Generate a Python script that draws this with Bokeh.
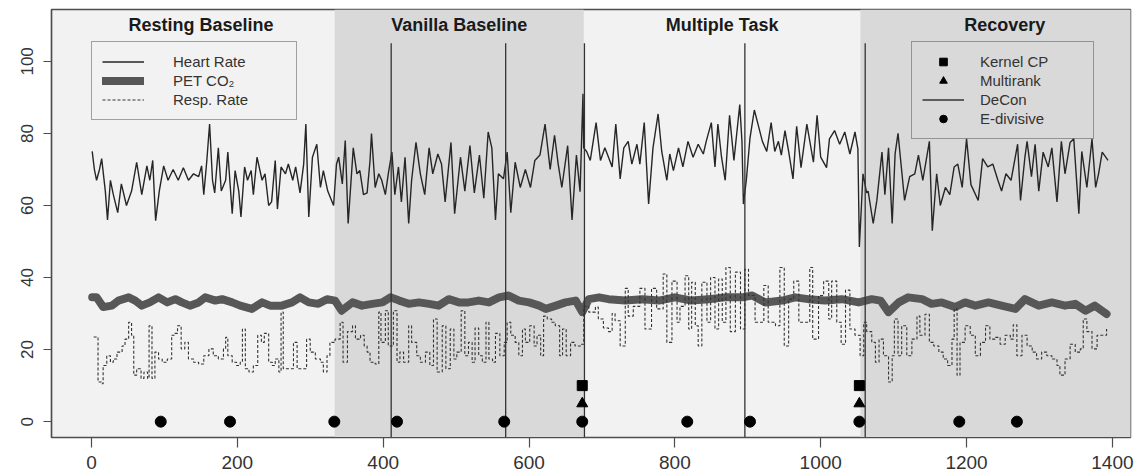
import numpy as np
from bokeh.plotting import figure
from bokeh.models import Range1d, FixedTicker, BoxAnnotation, Legend, LegendItem, ColumnDataSource
from bokeh.core.properties import value
from bokeh.embed import file_html
from bokeh.resources import INLINE

# ---------------- data ----------------
phase_names = ["Resting Baseline", "Vanilla Baseline", "Multiple Task", "Recovery"]
phase_start = [-33, 333.5, 675, 1054.5]
phase_end = [333.5, 675, 1054.5, 1450]

hr_time = [1, 4, 7, 11, 14, 19, 22, 26, 30, 36, 41, 48, 55, 62, 69, 76, 80, 84, 88, 93, 99, 105, 112, 119, 126, 133,
           140, 147, 151, 154, 158, 162, 166, 169, 174, 178, 184, 187, 193, 197, 202, 205, 210, 214, 219, 222, 227,
           234, 238, 243, 247, 252, 255, 260, 266, 270, 276, 280, 286, 291, 294, 298, 303, 309, 314, 318, 324, 332,
           336, 339, 344, 348, 352,
           359, 364, 368, 373, 378, 382, 384, 389, 394, 398, 403, 407, 412, 416, 421, 425, 430, 435, 439, 445, 451,
           457, 463, 468, 475, 480, 485, 493, 498, 506, 512, 519, 525, 532, 538, 544, 549, 554, 558, 565, 570, 575,
           581, 588, 595, 602, 608, 615, 622, 629, 635, 640, 645, 653, 659, 665, 670, 674, 675, 679, 684, 692, 698,
           704, 709,
           714, 719, 725, 730, 736, 741, 748, 752, 758, 764, 770, 777, 782, 789, 793, 798, 805, 811, 818, 825, 832,
           839, 843, 850, 855, 859, 864, 869, 875, 881, 889, 892, 894, 898, 903, 909, 914, 920, 926, 932, 937, 942,
           946, 951, 956, 962, 967, 973, 981, 990, 995, 1000, 1008, 1012, 1019, 1026, 1033, 1040, 1047, 1051, 1053,
           1058, 1063,
           1065, 1072, 1077, 1084, 1088, 1093, 1098, 1102, 1106, 1111, 1115, 1122, 1129, 1134, 1140, 1149, 1153,
           1159, 1164, 1171, 1177, 1183, 1188, 1194, 1200, 1206, 1216, 1222, 1229, 1236, 1243, 1248, 1254, 1261,
           1270, 1274, 1280, 1283, 1289, 1294, 1299, 1305, 1312, 1317, 1324, 1330, 1335, 1342, 1347, 1354, 1358,
           1365, 1372, 1377, 1381, 1386, 1394]
heart_rate = [75, 70, 67, 70, 73, 64, 56, 67, 63, 58, 66, 60, 64, 72, 63, 71, 67, 72.5, 55.8, 64, 71, 67, 70, 67, 70.5, 67,
              68.8, 68, 71, 63, 72, 82.6, 67, 63.5, 76, 64, 67, 74.8, 57.7, 69.7, 64, 56.8, 70.7, 67, 69.7, 63, 73.4,
              67, 68.8, 60, 61, 72.5, 59, 70.7, 68.8, 71.5, 67, 70.7, 63.5, 71.5, 82.6, 56.8, 73.4, 77, 65, 69.7, 64, 60,
              71.5, 73.4, 66, 78, 55,
              76, 68.8, 69.7, 63, 63.5, 72.5, 80, 65, 68.8, 67, 63, 68.8, 74.8, 63, 70.7, 61, 73.4, 55, 67, 77.5, 68.8,
              63, 76, 68.8, 74.3, 71.5, 61, 77.5, 57.7, 73.4, 64, 76.6, 63.5, 74, 62, 80.4, 76, 56, 68.8, 67.4, 74.8, 58,
              72, 65, 70, 65, 72.5, 74, 82.6, 70, 79.5, 71.5, 65, 76.6, 56, 74, 63.8, 91, 76, 75, 72.5, 83, 72.5,
              76, 73.4,
              70.7, 82.6, 67.4, 76, 77.8, 71.5, 77, 71.5, 83, 60.4, 76, 85.4, 75, 67, 74.3, 69.7, 76, 70.7, 77.8, 73.4, 77,
              74.3, 77.8, 83, 70.7, 82.6, 73.4, 67, 85, 72.5, 88, 77.8, 60.4, 67, 78.7, 86.5, 82.6, 77.8, 75, 83, 75, 77.8,
              74, 80.8, 75, 67.4, 82, 70.5, 82.6, 72, 85, 73.4, 70.5, 78.5, 80.8, 77, 80.4, 74.3, 80.4, 75.7, 48.5,
              68.8, 63.5,
              64, 55, 61.4, 74.8, 63, 76, 55, 74.3, 80, 69.7, 61.4, 68, 68.8, 74, 67, 77.8, 53,
              68.8, 60, 65, 63, 70.7, 71.5, 65, 78.5, 65.8, 61.4, 73, 70.7, 71.5, 67, 64, 68.8, 67,
              77, 61.4, 73.4, 77.8, 68, 77, 64, 74.8, 70.7, 76, 61, 77.8, 68.8, 77.5, 78.5, 57.7, 75,
              65, 78.5, 65, 68.8, 74.8, 72.5]

co2_time = [1, 7, 16, 28, 37, 51, 60, 69, 80, 92, 104, 115, 124, 135, 147, 156, 170, 179, 193, 204, 220, 234, 245, 261,
            275, 286, 298, 311, 323, 334, 343, 358, 371, 385, 399, 410, 422, 435, 449, 463, 476, 490, 504, 517, 531,
            545, 559, 572, 586, 600, 614, 623, 637, 650, 664, 673, 682, 696, 709, 732, 755, 778, 800, 823, 846, 869,
            892, 906, 924, 947, 965, 983, 1006, 1029, 1052, 1070, 1082, 1093, 1107, 1120, 1139, 1152, 1166, 1184,
            1198, 1212, 1230, 1248, 1267, 1280, 1299, 1317, 1335, 1349, 1363, 1376, 1392]
pet_co2 = [34.5, 34.5, 31.8, 32.2, 33.6, 34.5, 33.6, 32.2, 33.1, 34.5, 33.1, 34, 33.1, 32.2, 33.1, 34.5, 33.6, 34, 33.1,
           32.2, 31.3, 33.1, 32.2, 32.2, 33.1, 34.5, 33.1, 32.7, 34, 33.6, 30.8, 33.1, 32.2, 32.7, 33.1, 34.5, 33.6,
           32.7, 33.1, 32.7, 32.2, 34, 33.1, 33.1, 33.6, 33.1, 34.5, 35, 33.6, 33.1, 32.2, 31.3, 32.2, 33.1, 33.6, 30.4,
           34, 34.5, 34, 33.6, 34, 33.6, 34.5, 33.6, 34, 34.5, 34.5, 35, 33.1, 33.6, 34.5, 34, 33.6, 34, 33.1, 34, 33.6,
           30.4, 33.1, 34.5, 34, 32.7, 33.1, 31.8, 33.1, 32.2, 33.1, 32.2, 31.3, 34, 32.2, 33.1, 32.2, 32.7, 30.8,
           32.2, 29.9]

rr_time = [3, 9, 14, 16, 21, 26, 30, 35, 42, 46, 51, 55, 58, 62, 68, 72, 77, 79, 83, 87, 92, 97, 104, 110, 114, 118,
           123, 128, 133, 140, 147, 154, 161, 167, 174, 181, 184, 187, 193, 199, 204, 207, 211, 216, 222, 228, 233,
           237, 243, 248, 252, 257, 260, 263, 270, 277, 282, 289, 295, 300, 307, 314, 318, 323, 327, 334, 341, 345,
           351, 358, 362, 369, 374, 378, 382, 389, 394, 397, 403, 407, 414, 419, 423, 428, 435, 439, 446, 451, 458,
           464, 469, 474, 481, 486, 492, 497, 501, 507, 512, 517, 522, 526, 531, 536, 541, 545, 550, 554, 560, 566,
           570, 575, 581, 586, 591, 595, 601, 607, 611, 616, 620, 625, 631, 636, 642, 646, 651, 657, 663, 672, 675,
           682, 691, 695, 702, 709,
           714, 718, 725, 732, 736, 743, 752, 759, 768, 775, 784, 789, 796, 803, 807, 814, 819, 823, 828, 832, 837,
           844, 849, 855, 860, 865, 870, 876, 883, 890, 896, 901, 910, 922, 928, 938, 944, 950, 956, 963, 970, 979,
           985, 989, 997, 1004, 1011, 1015, 1022, 1028, 1034, 1040, 1047, 1054, 1059, 1063, 1070, 1075, 1080, 1086,
           1093, 1098, 1101, 1106, 1111, 1118, 1125, 1132, 1136, 1143, 1149, 1155, 1162, 1168, 1174, 1180, 1183,
           1187, 1191, 1198, 1205, 1212, 1219, 1226, 1232, 1239, 1246, 1253, 1260, 1264, 1269, 1276, 1283, 1290,
           1296, 1303, 1310, 1317, 1324, 1328, 1335, 1342, 1349, 1356, 1360, 1365, 1372, 1379, 1385, 1392]
resp_rate = [23.5, 11, 10.5, 15.6, 18.3, 16.5, 17.4, 19.3, 21, 22.9, 27.6, 24, 12.9, 14.7, 12, 13.8, 12, 26.6, 12, 19.3,
             17.4, 16.5, 17.4, 24, 24.5, 26.6, 20.2, 22, 17.4, 16.5, 16, 18.3, 20.2, 18.3, 17.4, 20.2, 23.4, 18.3,
             16.5, 15.6, 16.5, 25.7, 14.7, 13.8, 15.6, 24, 22, 24.5, 16.5, 15.6, 17.4, 13.8, 30.4, 14.7, 14.7, 22,
             14.7, 14.7, 22.9, 19.3, 17.4, 16.5, 13.8, 18.3, 22, 22.9, 27.6, 16.5, 25, 26.6, 22.9, 24, 21, 19.3, 16.5,
             16, 30.4, 22, 30.8, 21, 30.8, 16.5, 19.3, 16.5, 26.6, 22, 18.3, 16.5, 19.3, 15.6, 28.5, 13.8, 26.6, 14.7,
             25.7, 17.4, 19.3, 30.8, 18.3, 22, 16.5, 26, 18.3, 16.5, 27.6, 17.4, 16.5, 24.5, 18.3, 22, 27.6, 24, 22,
             18.3, 25.7, 22, 26.6, 21, 24, 18.3, 29.3, 28.5, 27.6, 26.6, 18.3, 25.7, 18.3, 22, 21, 21.5, 32, 30.4,
             31.8, 28.5, 26, 25,
             30, 28, 21, 37, 29.3, 32, 37, 25.7, 37, 31.3, 41, 22, 39, 27.6, 32, 40.5, 25.7, 38.7, 26.6, 21, 38.7,
             27.6, 40, 25.7, 39.6, 27.6, 42.8, 25, 41.5, 25.7, 42.3, 35, 27.6, 37.8, 27.6, 26.6, 42.8, 21, 34, 39,
             27.6, 27.6, 42.8, 22.9, 35, 39, 28.5, 39, 27.6, 21.5, 36.5, 25.7, 24, 18.3, 27.6, 25, 22, 16.5, 22.9,
             18.3, 11, 18.3, 28.5, 18.3, 26.6, 18.3, 22.9, 29.3, 24, 29.8, 22, 21, 19.3, 17.4, 15.6, 22.9, 31.3,
             12.9, 22, 26.6, 24, 18.3, 22, 26.6, 22.9, 23.4, 21.5, 24, 22.9, 26.9, 18.3, 24, 21, 19.3,
             17.4, 19.3, 18.3, 17.4, 15.6, 12.9, 17.4, 21.5, 19.3, 20.2, 28.5, 25, 20.2, 24, 24, 25.7]

decon_cp = [411, 568, 676, 896, 1061]
kernel_cp = [673, 1053]
kernel_level = [10, 10]
multirank_cp = [673, 1053]
multirank_level = [5, 5]
edivisive_cp = [95, 190, 333, 419, 566, 673, 817, 903, 1053, 1190, 1269]
edivisive_level = [0] * len(edivisive_cp)

x_ticks = [0, 200, 400, 600, 800, 1000, 1200, 1400]
y_ticks = [0, 20, 40, 60, 80, 100]
phase_label_y = 110
decon_top = 105

# ---------------- figure ----------------
FONT = "Liberation Sans"
LIGHT = "#f2f2f2"
DARK = "#d9d9d9"

p = figure(width=1140, height=476, output_backend="svg", toolbar_location=None,
           x_range=Range1d(-54.8, 1424.8), y_range=Range1d(-4.4, 114.4),
           min_border_left=51, min_border_right=10, min_border_top=9, min_border_bottom=39,
           background_fill_color=LIGHT, border_fill_color="white")
p.xgrid.visible = False
p.ygrid.visible = False
p.outline_line_color = "#4d4d4d"
p.outline_line_width = 1.5

for i, (s, e) in enumerate(zip(phase_start, phase_end)):
    if i % 2 == 1:
        p.add_layout(BoxAnnotation(left=s, right=e, fill_color=DARK, fill_alpha=1.0,
                                   line_color=None, level="underlay"))

phase_mid = [(s + e) / 2 for s, e in zip(phase_start, phase_end)]
p.text(x=phase_mid, y=[phase_label_y] * len(phase_mid), text=phase_names,
       text_align="center", text_baseline="middle", text_font=value(FONT),
       text_font_style="bold", text_font_size="18px", text_color="#1a1a1a")

hr_r = p.line(hr_time, heart_rate, line_color="#262626", line_width=1.4)
co2_r = p.line(co2_time, pet_co2, line_color="#575757", line_width=8, line_join="round", line_cap="round")
rr_r = p.step(rr_time, resp_rate, mode="after", line_color="#333333", line_width=1.1, line_dash="3 2")

y_lo = p.y_range.start
dc_r = p.segment(x0=decon_cp, y0=[y_lo] * len(decon_cp), x1=decon_cp, y1=[decon_top] * len(decon_cp),
                 line_color="#333333", line_width=1.3)
ed_r = p.scatter(edivisive_cp, edivisive_level, marker="circle", size=11, color="black")
mr_r = p.scatter(multirank_cp, multirank_level, marker="triangle", size=11, color="black")
kc_r = p.scatter(kernel_cp, kernel_level, marker="square", size=10, color="black")

# axes
for ax in (p.xaxis[0], p.yaxis[0]):
    ax.axis_line_color = "#4d4d4d"
    ax.axis_line_width = 1.2
    ax.major_tick_line_color = "#4d4d4d"
    ax.major_tick_line_width = 1.2
    ax.major_tick_in = 0
    ax.minor_tick_line_color = None
    ax.major_label_text_font = FONT
    ax.major_label_text_color = "#333333"
p.xaxis.ticker = FixedTicker(ticks=x_ticks)
p.yaxis.ticker = FixedTicker(ticks=y_ticks)
p.xaxis.major_tick_out = 10
p.yaxis.major_tick_out = 8
p.xaxis.major_label_text_font_size = "19px"
p.yaxis.major_label_text_font_size = "17px"
p.xaxis.major_label_standoff = 8
p.yaxis.major_label_standoff = 10
p.yaxis.major_label_orientation = "vertical"

legend_style = dict(padding=10, spacing=0, margin=0, label_height=19, glyph_height=19, glyph_width=42,
                    border_line_color="#4d4d4d", border_line_width=1.5, background_fill_alpha=0,
                    label_text_font=FONT, label_text_font_size="15px", label_text_color="#333333")
leg1 = Legend(items=[LegendItem(label="Heart Rate", renderers=[hr_r]),
                     LegendItem(label="PET CO₂", renderers=[co2_r]),
                     LegendItem(label="Resp. Rate", renderers=[rr_r])],
              location=(40, 317), label_standoff=29, label_width=113, **legend_style)
leg2 = Legend(items=[LegendItem(label="Kernel CP", renderers=[kc_r]),
                     LegendItem(label="Multirank", renderers=[mr_r]),
                     LegendItem(label="DeCon", renderers=[dc_r]),
                     LegendItem(label="E-divisive", renderers=[ed_r])],
              location=(860, 298), label_standoff=16, label_width=103, **legend_style)
p.add_layout(leg1)
p.add_layout(leg2)

open("out.html", "w").write(file_html(p, INLINE))
